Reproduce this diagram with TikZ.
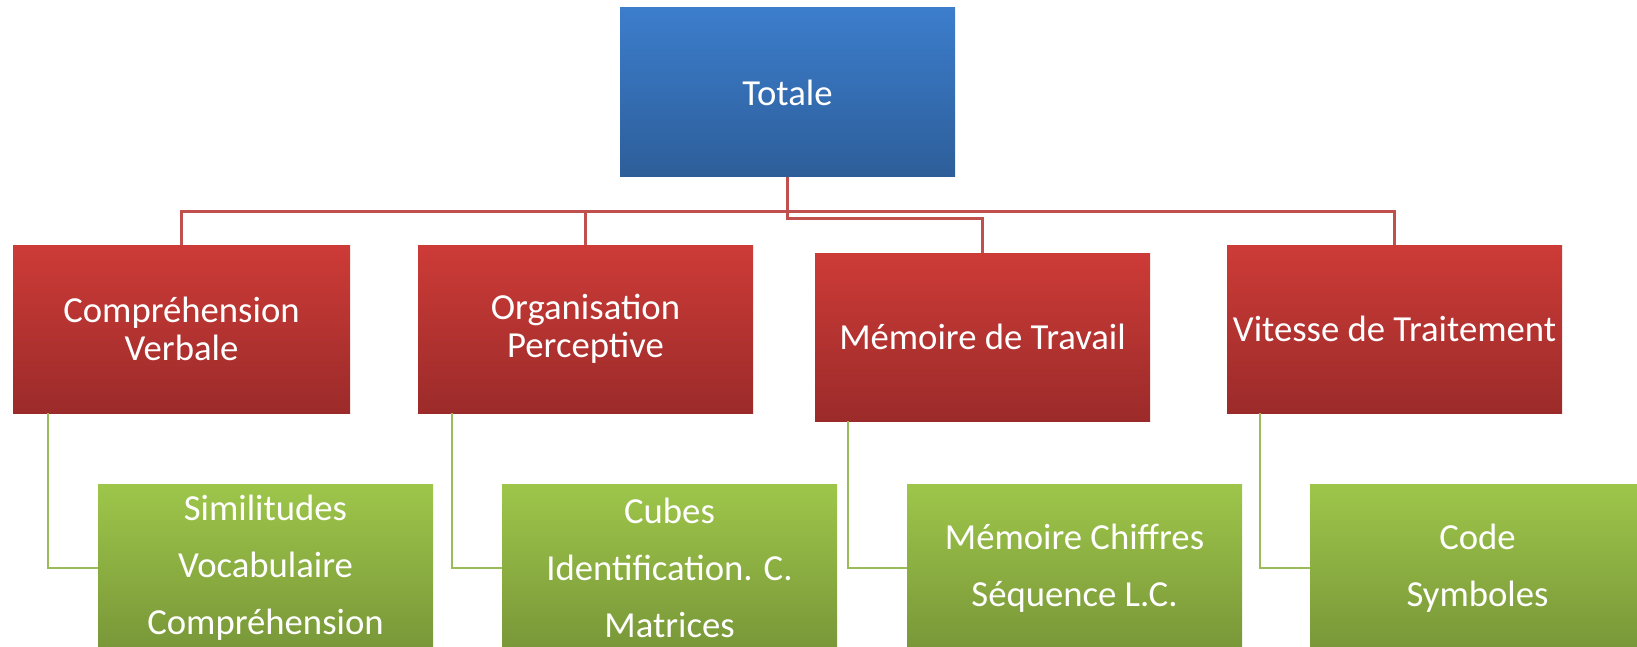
\documentclass[tikz,border=0pt]{standalone}
\usepackage{fontspec}
\setmainfont{Carlito}
\definecolor{bluetop}{RGB}{60,125,204}
\definecolor{bluebot}{RGB}{45,94,153}
\definecolor{redtop}{RGB}{205,59,55}
\definecolor{redbot}{RGB}{155,43,42}
\definecolor{greentop}{RGB}{158,198,74}
\definecolor{greenbot}{RGB}{120,150,56}
\definecolor{redline}{RGB}{192,80,77}
\definecolor{greenline}{RGB}{155,187,89}
\begin{document}
\begin{tikzpicture}[x=1pt,y=-1pt,
  box/.style={rectangle, inner sep=0pt, minimum width=335pt, minimum height=168pt,
    align=center, text=white, font=\fontsize{36.7}{38}\selectfont},
  topbox/.style={box, top color=bluetop, bottom color=bluebot, minimum height=169pt},
  redbox/.style={box, top color=redtop, bottom color=redbot},
  greenbox/.style={box, top color=greentop, bottom color=greenbot, font=\fontsize{36.7}{57}\selectfont},
  redconn/.style={draw=redline, line width=3pt},
  greenconn/.style={draw=greenline, line width=2.6pt}]
\useasboundingbox (0,0) rectangle (1637,647);
% top
\node[topbox] (T) at (787.5,92.5) {Totale};
% level 1
\node[redbox, minimum width=337pt] (C) at (181.5,329) {Compréhension\\Verbale};
\node[redbox] (O) at (585.5,329) {Organisation\\Perceptive};
\node[redbox] (M) at (982.5,337) {Mémoire de Travail};
\node[redbox] (V) at (1394.5,329) {Vitesse de Traitement};
% level 2
\node[greenbox] (G1) at (265.5,568) {Similitudes\\Vocabulaire\\Compréhension};
\node[greenbox] (G2) at (669.5,568) {Cubes\\Identification. C.\\Matrices};
\node[greenbox] (G3) at (1074.5,568) {Mémoire Chiffres\\Séquence L.C.};
\node[greenbox] (G4) at (1477.5,568) {Code\\Symboles};
% red connectors
\draw[redconn] (T.south) -- (T.south |- 0,211) -| (C.north);
\draw[redconn] (T.south) -- (T.south |- 0,211) -| (O.north);
\draw[redconn] (T.south) -- (T.south |- 0,211) -| (V.north);
\draw[redconn] (T.south) -- (T.south |- 0,218) -| (M.north);
% green connectors
\coordinate (c1) at ([xshift=35pt]C.south west);
\coordinate (c2) at ([xshift=34pt]O.south west);
\coordinate (c3) at ([xshift=33pt]M.south west);
\coordinate (c4) at ([xshift=33pt]V.south west);
\draw[greenconn] (c1) |- (G1.west);
\draw[greenconn] (c2) |- (G2.west);
\draw[greenconn] (c3) |- (G3.west);
\draw[greenconn] (c4) |- (G4.west);
\end{tikzpicture}
\end{document}
